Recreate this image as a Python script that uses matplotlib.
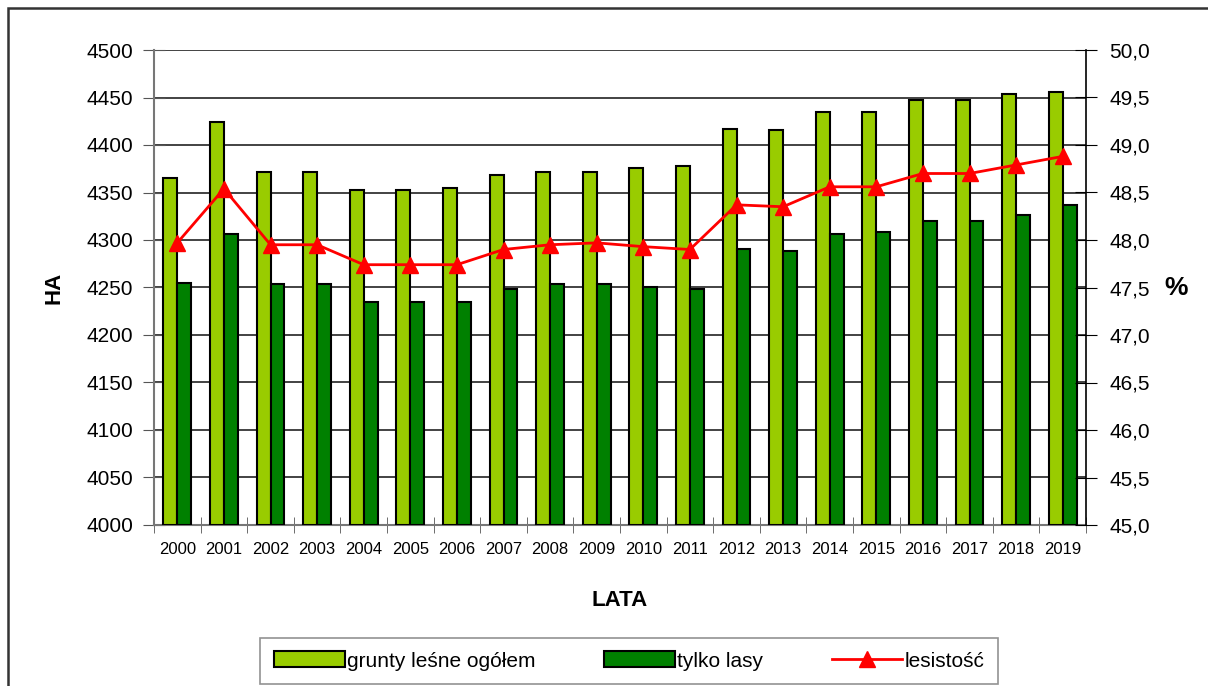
import numpy as np
import matplotlib.pyplot as plt
from matplotlib.patches import Rectangle
from matplotlib.ticker import FuncFormatter, FixedLocator

# Data
lata = ["2000", "2001", "2002", "2003", "2004", "2005", "2006", "2007", "2008", "2009",
        "2010", "2011", "2012", "2013", "2014", "2015", "2016", "2017", "2018", "2019"]
grunty_lesne = [4365, 4424, 4372, 4372, 4353, 4353, 4355, 4368, 4372, 4372,
                4376, 4378, 4417, 4416, 4435, 4435, 4447, 4447, 4454, 4456]
tylko_lasy = [4255, 4306, 4254, 4254, 4235, 4235, 4235, 4248, 4254, 4254,
              4251, 4248, 4290, 4288, 4306, 4308, 4320, 4320, 4326, 4337]
lesistosc = [47.97, 48.54, 47.95, 47.95, 47.74, 47.74, 47.74, 47.90, 47.95, 47.97,
             47.93, 47.90, 48.37, 48.35, 48.56, 48.56, 48.70, 48.70, 48.79, 48.88]

plt.rcParams["font.family"] = ["Liberation Sans", "DejaVu Sans"]

W, H = 1208, 686
fig = plt.figure(figsize=(W / 100, H / 100), dpi=100)
ax = fig.add_axes([154 / W, 1 - 525 / H, (1086 - 154) / W, (525 - 50) / H])

x = np.arange(len(lata))
bw = 0.3
ax.bar(x - bw / 2, np.array(grunty_lesne) - 4000, bw, bottom=4000, color="#99CC00",
       edgecolor="black", linewidth=1.5, zorder=3, label="grunty leśne ogółem")
ax.bar(x + bw / 2, np.array(tylko_lasy) - 4000, bw, bottom=4000, color="#008000",
       edgecolor="black", linewidth=1.5, zorder=3, label="tylko lasy")

ax.set_xlim(-0.5, len(lata) - 0.5)
ax.set_ylim(4000, 4500)
ax.set_yticks(np.arange(4000, 4501, 50))
ax.yaxis.grid(True, color="#222222", linewidth=1.2, zorder=0)
ax.set_axisbelow(True)

ax.set_xticks(x)
ax.set_xticklabels(lata, fontsize=12)
ax.tick_params(axis="x", length=0, pad=12)
ax.xaxis.set_minor_locator(FixedLocator(np.arange(-0.5, len(lata), 1.0)))
ax.tick_params(axis="x", which="minor", direction="inout", length=12, color="#555555")
ax.tick_params(axis="y", direction="inout", length=16, color="#555555", labelsize=15, pad=7)

for s in ["top", "right"]:
    ax.spines[s].set_visible(False)
ax.spines["left"].set_color("#777777")
ax.spines["bottom"].set_color("#777777")
ax.spines["left"].set_linewidth(1.5)
ax.spines["bottom"].set_linewidth(1.5)

ax.set_xlabel("LATA", fontsize=16, fontweight="bold", labelpad=24)
ax.set_ylabel("HA", fontsize=16, fontweight="bold", labelpad=16)

ax2 = ax.twinx()
ax2.plot(x, lesistosc, color="#FF0000", linewidth=2, marker="^", markersize=11,
         zorder=5, label="lesistość")
ax2.set_ylim(45, 50)
ax2.set_yticks(np.arange(45, 50.01, 0.5))
ax2.yaxis.set_major_formatter(FuncFormatter(lambda v, p: f"{v:.1f}".replace(".", ",")))
ax2.tick_params(axis="y", direction="inout", length=16, color="black", labelsize=15, pad=9)
for s in ["top", "left", "bottom"]:
    ax2.spines[s].set_visible(False)
ax2.spines["right"].set_color("black")
ax2.spines["right"].set_linewidth(1.2)
fig.text(1176 / W, 1 - 288 / H, "%", fontsize=19, fontweight="bold",
         ha="center", va="center")

h1, l1 = ax.get_legend_handles_labels()
h2, l2 = ax2.get_legend_handles_labels()
leg = fig.legend(h1 + h2, l1 + l2, loc="center", bbox_to_anchor=(629 / W, 1 - 661 / H),
                 ncol=3, fontsize=15, frameon=True, fancybox=False, edgecolor="#777777",
                 handlelength=3.4, handleheight=0.8, columnspacing=3.3, handletextpad=0.1,
                 borderpad=0.65, borderaxespad=0)
leg.get_frame().set_linewidth(1.2)

# outer chart frame
fig.add_artist(Rectangle((8 / W, -0.1), 1.2, 1 - 8 / H + 0.1, transform=fig.transFigure,
                         fill=False, edgecolor="#333333", linewidth=1.8))

fig.savefig("out.png", dpi=100)
